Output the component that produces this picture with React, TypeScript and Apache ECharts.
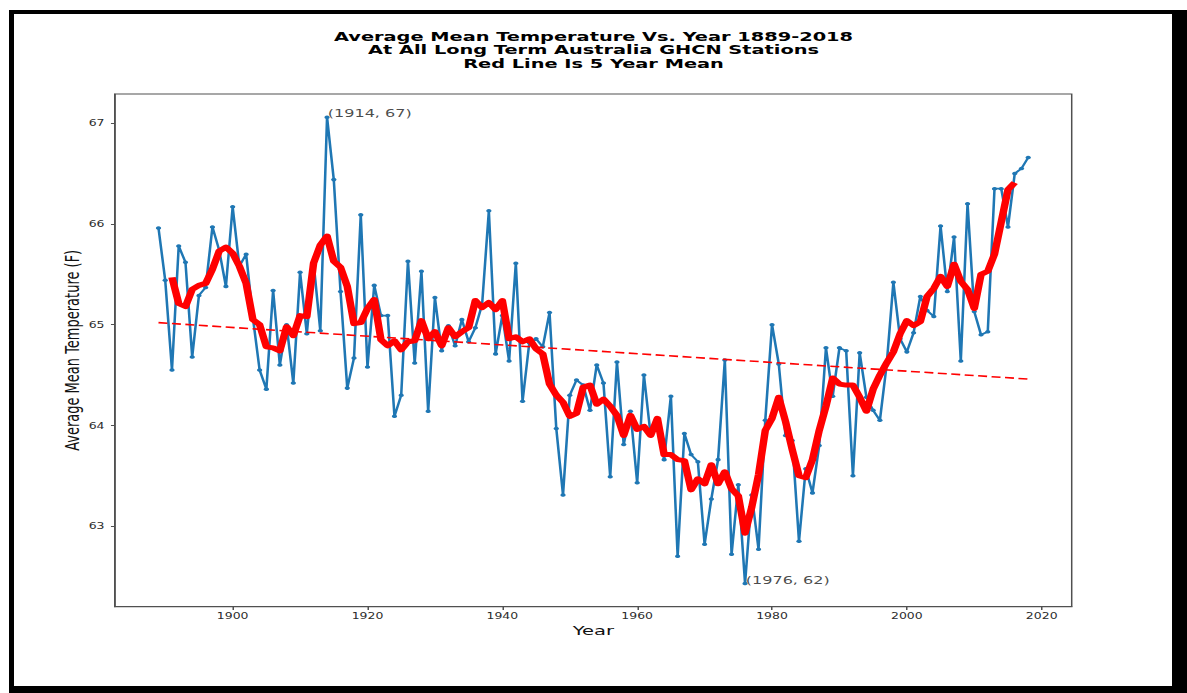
import React, { useEffect, useRef } from "react";
import * as echarts from "echarts";

// ---------------- data ----------------
const FIRST_YEAR = 1889;
const TEMP_1889_1899 = [65.96, 65.44, 64.55, 65.78, 65.62, 64.68, 65.29, 65.37, 65.97, 65.74, 65.38];
const TEMP_1900S = [66.17, 65.58, 65.7, 65.07, 64.55, 64.36, 65.34, 64.6, 65.0, 64.42];
const TEMP_1910S = [65.52, 64.91, 65.62, 64.94, 67.06, 66.44, 65.33, 64.37, 64.67, 66.09];
const TEMP_1920S = [64.58, 65.39, 65.09, 65.09, 64.09, 64.3, 65.63, 64.62, 65.53, 64.14];
const TEMP_1930S = [65.27, 64.74, 64.99, 64.79, 65.05, 64.83, 64.97, 65.2, 66.13, 64.71];
const TEMP_1940S = [65.09, 64.64, 65.61, 64.24, 64.82, 64.86, 64.78, 65.12, 63.97, 63.31];
const TEMP_1950S = [64.3, 64.45, 64.4, 64.15, 64.6, 64.42, 63.49, 64.63, 63.81, 64.14];
const TEMP_1960S = [63.43, 64.5, 63.9, 64.0, 63.66, 64.29, 62.7, 63.92, 63.71, 63.64];
const TEMP_1970S = [62.82, 63.27, 63.66, 64.65, 62.72, 63.41, 62.43, 63.31, 62.77, 64.05];
const TEMP_1980S = [65.0, 64.61, 63.9, 63.85, 62.85, 63.57, 63.33, 63.8, 64.77, 64.29];
const TEMP_1990S = [64.77, 64.74, 63.5, 64.72, 64.28, 64.15, 64.05, 64.6, 65.42, 64.86];
const TEMP_2000S = [64.73, 64.92, 65.28, 65.14, 65.08, 65.98, 65.33, 65.87, 64.64, 66.2];
const TEMP_2010_2018 = [65.13, 64.9, 64.93, 66.35, 66.35, 65.97, 66.5, 66.55, 66.66];

const MEAN_FIRST_YEAR = 1891;
const MEAN_1891_1899 = [65.47, 65.21, 65.18, 65.35, 65.39, 65.41, 65.55, 65.73, 65.77];
const MEAN_1900S = [65.71, 65.58, 65.41, 65.05, 65.0, 64.78, 64.77, 64.74, 64.98, 64.89];
const MEAN_1910S = [65.09, 65.08, 65.61, 65.79, 65.88, 65.63, 65.57, 65.38, 65.01, 65.02];
const MEAN_1920S = [65.16, 65.25, 64.85, 64.79, 64.84, 64.75, 64.83, 64.84, 65.04, 64.86];
const MEAN_1930S = [64.93, 64.79, 64.97, 64.88, 64.93, 64.97, 65.24, 65.17, 65.22, 65.15];
const MEAN_1940S = [65.24, 64.86, 64.88, 64.83, 64.86, 64.76, 64.71, 64.41, 64.3, 64.23];
const MEAN_1950S = [64.09, 64.12, 64.38, 64.4, 64.21, 64.26, 64.19, 64.1, 63.9, 64.1];
const MEAN_1960S = [63.96, 63.99, 63.9, 64.07, 63.71, 63.71, 63.66, 63.65, 63.36, 63.47];
const MEAN_1970S = [63.42, 63.61, 63.42, 63.54, 63.37, 63.3, 62.93, 63.19, 63.51, 63.95];
const MEAN_1980S = [64.07, 64.28, 64.04, 63.76, 63.5, 63.48, 63.66, 63.95, 64.19, 64.47];
const MEAN_1990S = [64.41, 64.4, 64.4, 64.28, 64.14, 64.36, 64.5, 64.62, 64.73, 64.91];
const MEAN_2000S = [65.04, 64.99, 65.03, 65.28, 65.36, 65.48, 65.38, 65.6, 65.43, 65.35];
const MEAN_2010_2016 = [65.16, 65.5, 65.53, 65.7, 66.02, 66.34, 66.41];

const TREND_YEARS = [1889, 2018];
const TREND_VALUES = [65.02, 64.46];

const X_TICKS = [1900, 1920, 1940, 1960, 1980, 2000, 2020];
const Y_TICKS = [63, 64, 65, 66, 67];

const ANNOTATION_YEARS = [1914, 1976];
const ANNOTATION_VALUES = [67.06, 62.43];
const ANNOTATION_TEXTS = ["(1914, 67)", "(1976, 62)"];

const TITLE_LINES = [
  "Average Mean Temperature Vs. Year 1889-2018",
  "At All Long Term Australia GHCN Stations",
  "Red Line Is 5 Year Mean",
];
const X_NAME = "Year";
const Y_NAME = "Average Mean Temperature (F)";

// ---------------- layout ----------------
const SX = 1.5; // the reference picture is stretched horizontally
const PAGE_W = 1187;
const PAGE_H = 693;
const CHART_W = PAGE_W / SX;
const FONT = "DejaVu Sans";
const AXIS_COLOR = "#505050";

const TEMPS = [
  ...TEMP_1889_1899, ...TEMP_1900S, ...TEMP_1910S, ...TEMP_1920S, ...TEMP_1930S,
  ...TEMP_1940S, ...TEMP_1950S, ...TEMP_1960S, ...TEMP_1970S, ...TEMP_1980S,
  ...TEMP_1990S, ...TEMP_2000S, ...TEMP_2010_2018,
];
const MEANS = [
  ...MEAN_1891_1899, ...MEAN_1900S, ...MEAN_1910S, ...MEAN_1920S, ...MEAN_1930S,
  ...MEAN_1940S, ...MEAN_1950S, ...MEAN_1960S, ...MEAN_1970S, ...MEAN_1980S,
  ...MEAN_1990S, ...MEAN_2000S, ...MEAN_2010_2016,
];

function buildOption() {
  const tempData = TEMPS.map((v, i) => [FIRST_YEAR + i, v]);
  const meanData = MEANS.map((v, i) => [MEAN_FIRST_YEAR + i, v]);
  const trendData = TREND_YEARS.map((y, i) => [y, TREND_VALUES[i]]);
  const noteData = ANNOTATION_YEARS.map((y, i) => ({
    value: [y, ANNOTATION_VALUES[i]],
    text: ANNOTATION_TEXTS[i],
  }));

  return {
    animation: false,
    title: {
      text: TITLE_LINES.join("\n"),
      left: "center",
      top: 24.5,
      textStyle: {
        fontFamily: FONT,
        fontWeight: "bold",
        fontSize: 12.9,
        lineHeight: 13.7,
        color: "#000",
      },
    },
    grid: {
      left: 76.67,
      top: 94,
      width: 637.8,
      height: 512.7,
      show: true,
      borderColor: AXIS_COLOR,
      borderWidth: 1,
      backgroundColor: "transparent",
    },
    xAxis: {
      type: "value",
      min: 1882.55,
      max: 2024.45,
      name: X_NAME,
      nameLocation: "middle",
      nameGap: 17,
      nameMoveOverlap: false,
      nameTextStyle: { fontFamily: FONT, fontSize: 13, color: "#111" },
      axisLine: { show: true, lineStyle: { color: AXIS_COLOR, width: 1 } },
      axisTick: {
        show: true,
        length: 3.3,
        customValues: X_TICKS,
        lineStyle: { color: AXIS_COLOR, width: 1 },
      },
      axisLabel: {
        customValues: X_TICKS,
        formatter: (v: number) => String(v),
        fontFamily: FONT,
        fontSize: 8.3,
        color: "#2b2b2b",
        margin: 5,
      },
      splitLine: { show: false },
    },
    yAxis: {
      type: "value",
      min: 62.2,
      max: 67.29,
      name: Y_NAME,
      nameLocation: "middle",
      nameGap: 22,
      nameMoveOverlap: false,
      nameTextStyle: { fontFamily: FONT, fontSize: 13, color: "#111" },
      axisLine: { show: true, lineStyle: { color: AXIS_COLOR, width: 1 } },
      axisTick: {
        show: true,
        length: 2.7,
        customValues: Y_TICKS,
        lineStyle: { color: AXIS_COLOR, width: 1 },
      },
      axisLabel: {
        customValues: Y_TICKS,
        formatter: (v: number) => String(v),
        fontFamily: FONT,
        fontSize: 8.3,
        color: "#2b2b2b",
        margin: 7,
      },
      splitLine: { show: false },
    },
    series: [
      {
        type: "line",
        data: tempData,
        z: 2,
        symbol: "circle",
        symbolSize: 3.5,
        showSymbol: true,
        itemStyle: { color: "#1f77b4" },
        lineStyle: { color: "#1f77b4", width: 1.7 },
        emphasis: { disabled: true },
      },
      {
        type: "line",
        data: meanData,
        z: 3,
        symbol: "none",
        lineStyle: { color: "#ff0000", width: 5, join: "round", cap: "butt" },
        emphasis: { disabled: true },
      },
      {
        type: "line",
        data: trendData,
        z: 4,
        symbol: "none",
        lineStyle: { color: "#ff0000", width: 1.6, type: [6, 3] },
        emphasis: { disabled: true },
      },
      {
        type: "scatter",
        data: noteData,
        z: 5,
        symbol: "circle",
        symbolSize: 1,
        itemStyle: { color: "rgba(0,0,0,0)" },
        emphasis: { disabled: true },
        label: {
          show: true,
          formatter: (p: any) => p.data.text,
          position: "right",
          distance: 0,
          offset: [0, -3.8],
          fontFamily: FONT,
          fontSize: 10.7,
          color: "#1a1a1a",
        },
      },
    ],
  };
}

export default function App() {
  const ref = useRef<HTMLDivElement>(null);
  useEffect(() => {
    if (!ref.current) return;
    const chart = echarts.init(ref.current, null, {
      renderer: "svg",
      width: CHART_W,
      height: PAGE_H,
    });
    chart.setOption(buildOption() as any);
    return () => chart.dispose();
  }, []);

  return (
    <div
      style={{
        position: "absolute",
        left: 0,
        top: 0,
        width: PAGE_W,
        height: PAGE_H,
        background: "#fff",
        overflow: "hidden",
      }}
    >
      <div style={{ position: "absolute", left: 9, top: 10, width: 1178, height: 683, background: "#000" }} />
      <div style={{ position: "absolute", left: 14, top: 14, width: 1158, height: 672, background: "#fff" }} />
      <div
        ref={ref}
        style={{
          position: "absolute",
          left: 0,
          top: 0,
          width: CHART_W,
          height: PAGE_H,
          transform: `scaleX(${SX})`,
          transformOrigin: "0 0",
        }}
      />
    </div>
  );
}
